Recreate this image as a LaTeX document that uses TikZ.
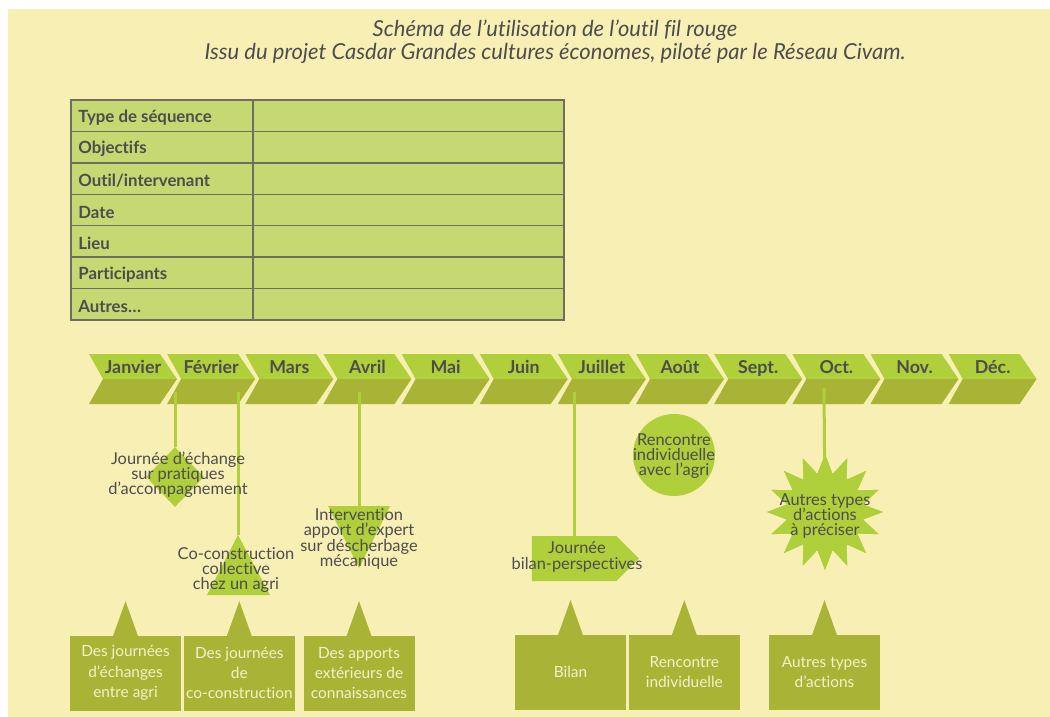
\documentclass[tikz,border=0pt]{standalone}
\usepackage{fontspec}
\setmainfont{Lato}[Ligatures=NoCommon]
\usetikzlibrary{positioning, calc, shapes.geometric, shapes.symbols}
\setlength{\lineskiplimit}{-6pt}

\definecolor{fond}{HTML}{F8EFB5}
\definecolor{vertclair}{HTML}{C5D872}
\definecolor{vertvif}{HTML}{AFCF3B}
\definecolor{olive}{HTML}{A9B437}
\definecolor{gristexte}{HTML}{4D4D4D}
\definecolor{trait}{HTML}{6E6E62}
\definecolor{creme}{HTML}{F4F1C9}

\tikzset{
  titre/.style={font=\itshape\fontsize{11}{11.5}\selectfont, text=gristexte, align=center},
  rangee/.style={font=\bfseries\fontsize{8.4}{9}\selectfont, text=gristexte, anchor=west, inner sep=0},
  mois/.style={font=\bfseries\fontsize{8.9}{9}\selectfont, text=gristexte, inner sep=0,
    text height=1.6ex, text depth=0.3ex},
  forme/.style={fill=vertvif, draw=none, inner sep=0},
  libre/.style={font=\fontsize{8.2}{7.6}\selectfont, text=gristexte, align=center, inner sep=0},
  bloc/.style={fill=olive, minimum width=55.5pt, minimum height=37.5pt, inner sep=0,
    align=center, text=creme, font=\fontsize{7.7}{10.2}\selectfont},
  lien/.style={draw=vertvif, line width=1.5pt},
  grille/.style={draw=trait, line width=0.7pt}
}

\begin{document}
\begin{tikzpicture}[x=0.5pt, y=-0.5pt, node distance=1pt]
  % fond de page
  \fill[white] (0,0) rectangle (1050,717);
  \fill[fond] (8,9) rectangle (1050,717);
  \useasboundingbox (0,0) rectangle (1050,717);

  \node[titre] (titre) at (555,42) {Schéma de l’utilisation de l’outil fil rouge\\
    Issu du projet Casdar Grandes cultures économes, piloté par le Réseau Civam.};

  % tableau de la fiche
  \fill[vertclair] (71,100) rectangle (564,320);
  \foreach \i in {1,...,6}
    \draw[grille] (71,{100+31.43*\i}) -- (564,{100+31.43*\i});
  \draw[grille] (71,100) rectangle (564,320);
  \draw[grille] (253,100) -- (253,320);
  \foreach \lab [count=\i] in {Type de séquence, Objectifs, Outil/intervenant, Date, Lieu, Participants, Autres…}
    \node[rangee] (r\i) at (78,{100+31.43*(\i-0.5)+2}) {\lab};

  % frise des mois
  \foreach \m [count=\i from 0] in {Janvier,Février,Mars,Avril,Mai,Juin,Juillet,Août,Sept.,Oct.,Nov.,Déc.}{
    \pgfmathsetmacro{\xa}{89+78.15*\i}
    \fill[vertvif] (\xa,354) -- ({\xa+71},354) -- ({\xa+88},379) -- ({\xa+14},379) -- cycle;
    \fill[olive] ({\xa+14},379) -- ({\xa+88},379) -- ({\xa+71},404) -- (\xa,404) -- cycle;
    \node[mois] (m\i) at ({\xa+44},367) {\m};
  }

  \coordinate (p1) at (175,392);
  \coordinate (p2) at (238,392);
  \coordinate (p3) at (359,392);
  \coordinate (p4) at (574,392);
  \coordinate (p5) at (824,388);

  % formes des actions
  \node[forme, diamond, minimum width=29pt, minimum height=30pt] (losange) at (175,477) {};
  \coordinate (coco) at (238,535);
  \coordinate (interv) at (359,506);
  \node[forme, circle, minimum size=41pt] (cercle) at (674,455) {};
  \node[forme, signal, signal to=east, minimum width=53.5pt, minimum height=22.5pt] (fleche) at (574,558.5) {};
  \node[forme, star, star points=16, star point ratio=1.5, minimum size=58pt] (etoile) at (825,512) {};

  \path[lien]
    (p1) edge (losange.north)
    (p2) edge (coco)
    (p3) edge (interv)
    (p4) edge (p4 |- fleche.north)
    (p5) edge (etoile.center);

  \fill[vertvif] (coco) -- (270,595) -- (207,595) -- cycle;
  \fill[vertvif] (328,506) -- (390,506) -- (359,568) -- cycle;
  \node[forme, star, star points=16, star point ratio=1.5, minimum size=58pt] at (etoile) {};

  \node[libre] (t-losange) at (178,475) {Journée d’échange\\sur pratiques\\d’accompagnement};
  \node[libre] (t-coco) at (236,570) {Co-construction\\collective\\chez un agri};
  \node[libre] (t-interv) at (359,539) {Intervention\\apport d’expert\\sur déscherbage\\mécanique};
  \node[libre] (t-cercle) at (674,456) {Rencontre\\individuelle\\avec l’agri};
  \node[libre] (t-fleche) at (577,557) {Journée\\bilan-perspectives};
  \node[libre] (t-etoile) at (825,516) {Autres types\\d’actions\\à préciser};

  % types de sequences
  \node[bloc] (b1) at (125.5,673) {Des journées\\d’échanges\\entre agri};
  \node[bloc] (b2) [right=of b1] {Des journées\\de\\co-construction};
  \node[bloc] (b3) at (359,673) {Des apports\\extérieurs de\\connaissances};
  \node[bloc] (b4) at (570.5,672) {Bilan};
  \node[bloc] (b5) [right=of b4] {Rencontre\\individuelle};
  \node[bloc] (b6) at (824.5,672) {Autres types\\d’actions};
  \foreach \b in {b1,b2,b3,b4,b5,b6}
    \fill[olive] ($(\b.north)+(-12.5,1)$) -- ($(\b.north)+(0,-34)$) -- ($(\b.north)+(12.5,1)$) -- cycle;
\end{tikzpicture}
\end{document}
